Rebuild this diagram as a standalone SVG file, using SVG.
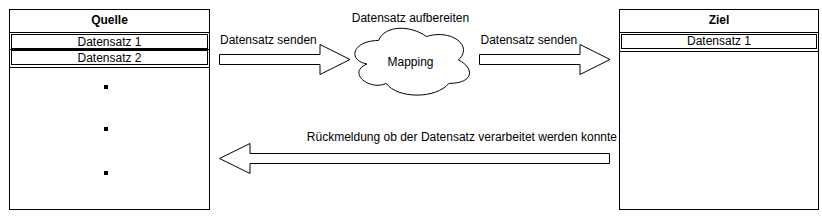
<svg xmlns="http://www.w3.org/2000/svg" width="822" height="220" viewBox="0 0 822 220">
  <style>
    .box { fill: #ffffff; stroke: #000000; stroke-width: 1; }
    .ln { stroke: #000000; stroke-width: 1; fill: none; }
    .t { font-family: "Liberation Sans", Arial, Helvetica, sans-serif; font-size: 12px; fill: #000000; }
    .c { text-anchor: middle; }
    .b { font-weight: bold; }
    .arrow { fill: #ffffff; stroke: #000000; stroke-width: 1; stroke-linejoin: miter; }
  </style>
  <rect width="822" height="220" fill="#ffffff"/>

  <g id="quelle">
    <rect class="box" x="9.5" y="9.5" width="200" height="200"/>
    <line class="ln" x1="9.5" y1="32.5" x2="209.5" y2="32.5"/>
    <text class="t c b" x="109.5" y="24">Quelle</text>
    <g id="quelle-row1">
      <rect class="box" x="11.5" y="34.5" width="196" height="14"/>
      <line class="ln" x1="9.5" y1="49.5" x2="209.5" y2="49.5"/>
      <text class="t c" x="109.5" y="45.5">Datensatz 1</text>
    </g>
    <g id="quelle-row2">
      <rect class="box" x="11.5" y="50.5" width="196" height="14"/>
      <line class="ln" x1="9.5" y1="67.5" x2="209.5" y2="67.5"/>
      <text class="t c" x="109.5" y="61.5">Datensatz 2</text>
    </g>
    <rect x="104" y="85" width="4" height="4" fill="#000000"/>
    <rect x="104" y="127" width="4" height="4" fill="#000000"/>
    <rect x="104" y="171" width="4" height="4" fill="#000000"/>
  </g>

  <g id="ziel">
    <rect class="box" x="619.5" y="9.5" width="199" height="200"/>
    <line class="ln" x1="619.5" y1="32.5" x2="818.5" y2="32.5"/>
    <text class="t c b" x="719" y="24">Ziel</text>
    <g id="ziel-row1">
      <rect class="box" x="621.5" y="34.5" width="195" height="14"/>
      <line class="ln" x1="619.5" y1="51.5" x2="818.5" y2="51.5"/>
      <text class="t c" x="719" y="45">Datensatz 1</text>
    </g>
  </g>

  <g id="mapping">
    <path class="box" d="M378.5,40.5 C353,40.5 346.5,60 367,64 C346.5,72.5 369.5,91.2 386.2,83.4 C397.7,99 436.1,99 448.9,83.4 C474.5,83.4 474.5,67.8 458.5,60 C474.5,44.4 448.9,28.8 426.5,36.6 C410.5,24.9 384.9,24.9 378.5,40.5 Z"/>
    <text class="t c" x="410.5" y="66">Mapping</text>
    <text class="t c" x="410.5" y="21.5">Datensatz aufbereiten</text>
  </g>

  <g id="connectors">
    <path class="arrow" d="M219.5,54.5 L320,54.5 L320,44.5 L350,59.5 L320,74.5 L320,64.5 L219.5,64.5 Z"/>
    <text class="t" x="220" y="43.5">Datensatz senden</text>
    <path class="arrow" d="M479.5,54.5 L580,54.5 L580,44.5 L610,59.5 L580,74.5 L580,64.5 L479.5,64.5 Z"/>
    <text class="t" x="480.5" y="43.5">Datensatz senden</text>
    <path class="arrow" d="M609.5,153.5 L250,153.5 L250,143.5 L219.5,158.5 L250,173.5 L250,163.5 L609.5,163.5 Z"/>
    <text class="t" x="617" y="141" text-anchor="end">Rückmeldung ob der Datensatz verarbeitet werden konnte</text>
  </g>
</svg>
